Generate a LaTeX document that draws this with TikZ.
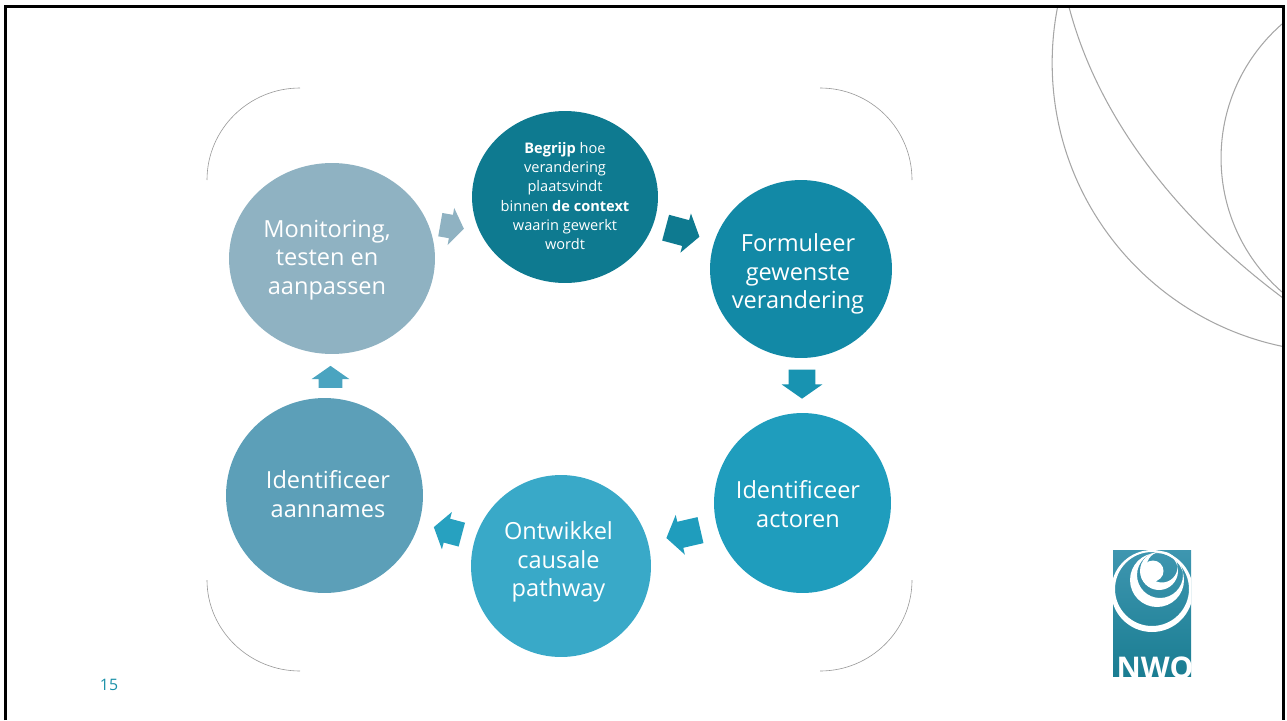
\documentclass[tikz,border=0pt]{standalone}
\usepackage{fontspec}
\setmainfont{Open Sans}
\usetikzlibrary{positioning}
\usetikzlibrary{shapes.geometric, shapes.arrows}
\definecolor{cbegrijp}{HTML}{0E7A90}
\definecolor{cformuleer}{HTML}{1289A6}
\definecolor{cactoren}{HTML}{1F9DBD}
\definecolor{contwikkel}{HTML}{39A9C8}
\definecolor{caannames}{HTML}{5C9FB8}
\definecolor{cmonitoring}{HTML}{8FB2C2}
\definecolor{clogotop}{HTML}{3E96B0}
\definecolor{clogobot}{HTML}{1A7D92}
\definecolor{cpage}{HTML}{1A90A8}
\begin{document}
\begin{tikzpicture}[
        x=0.02cm, y=-0.02cm,
        stap/.style={ellipse, inner sep=-2cm},
        tekst/.style={inner sep=0pt, align=center, text=white,
            font=\fontsize{13.4}{16.4}\selectfont},
        klein/.style={font=\fontsize{8.3}{11}\selectfont},
        pijl/.style={single arrow, inner xsep=0pt, inner ysep=#1, single arrow head extend=.14cm,
            single arrow tip angle=110, single arrow head indent=0pt},
        hoek/.style={draw=black!40, line width=.35pt},
        lijn/.style={draw=black!35, line width=.6pt}]

        \useasboundingbox (0,0) rectangle (1287,720);

        \node[stap, fill=cbegrijp, minimum width=3.72cm, minimum height=3.44cm] (B) at (565,197) {};
        \node[stap, fill=cformuleer, minimum width=3.64cm, minimum height=3.56cm] (F) at (801,269) {};
        \node[stap, fill=cactoren, minimum width=3.54cm, minimum height=3.6cm] (A) at (802.5,503) {};
        \node[stap, fill=contwikkel, minimum width=3.6cm, minimum height=3.64cm] (O) at (561,566) {};
        \node[stap, fill=caannames, minimum width=3.94cm, minimum height=3.9cm] (N) at (324.5,495.5) {};
        \node[stap, fill=cmonitoring, minimum width=4.12cm, minimum height=3.82cm] (M) at (332,258.5) {};

        \node[tekst, klein] (Bt) at (565,196)
            {\textbf{Begrijp} hoe\\verandering\\plaatsvindt\\binnen \textbf{de context}\\waarin gewerkt\\wordt};
        \node[tekst] (Ft) at (798,274) {Formuleer\\gewenste\\verandering};
        \node[tekst] (At) at (798,504) {Identificeer\\actoren};
        \node[tekst] (Ot) at (558.5,562) {Ontwikkel\\causale\\pathway};
        \node[tekst] (Nt) at (328,494) {Identificeer\\aannames};
        \node[tekst] (Mt) at (327,260) {Monitoring,\\testen en\\aanpassen};

        \node[pijl=.23cm, fill=cmonitoring, minimum height=.48cm, rotate=-10] (MB) at (448,226) {};
        \node[pijl=.26cm, fill=cbegrijp, minimum height=.7cm, rotate=-15] (BF) at (678,231) {};
        \node[pijl=.26cm, fill=cformuleer!50!cactoren, minimum height=.58cm, rotate=-90] (FA) at (802,379.5) {};
        \node[pijl=.26cm, fill=cactoren, minimum height=.7cm, rotate=193] (AO) at (688,533) {};
        \node[pijl=.24cm, fill=cactoren!70!contwikkel, minimum height=.58cm, rotate=165] (ON) at (452,532) {};
        \node[pijl=.23cm, fill=contwikkel!50!caannames, minimum height=.44cm, rotate=90] (NM) at (330.5,381) {};

        \draw[hoek] (207,180) .. controls (207,129) and (249,88) .. (300,88);
        \draw[hoek] (912,180) .. controls (912,129) and (871,88) .. (820,88);
        \draw[hoek] (207,580) .. controls (207,630) and (249,671) .. (300,671);
        \draw[hoek] (912,580) .. controls (912,630) and (871,671) .. (820,671);

        \begin{scope}
            \clip (6,6) rectangle (1283,720);
            \draw[lijn] (1341.6,63) circle[radius=5.79cm];
            \draw[lijn] (1398.7,158) circle[radius=3.554cm];
            \draw[lijn] (1069,7) .. controls (1100,125) and (1185,225) .. (1283,298);
        \end{scope}

        \draw[line width=.06cm] (5.5,720) -- (5.5,6.5) -- (1283,6.5) -- (1283,720);

        \begin{scope}
            \clip (1113,550) rectangle (1191,676);
            \shade[top color=clogotop, bottom color=clogobot] (1113,550) rectangle (1191,676);
            \fill[white, even odd rule] (1152,591) circle[radius=.82cm] (1152,589) circle[radius=.74cm];
            \fill[white, even odd rule] (1157,580) circle[radius=.54cm] (1160,575) circle[radius=.46cm];
            \fill[white, even odd rule] (1159,571) circle[radius=.38cm] (1162,567) circle[radius=.31cm];
            \fill[white] (1153,571) circle[radius=.21cm];
            \node[text=white, inner sep=0pt, font=\fontsize{17}{17}\bfseries\selectfont, anchor=base] (L) at (1155,678) {NWO};
        \end{scope}

        \node[text=cpage, inner sep=0pt, font=\fontsize{9}{11}\selectfont] (P) at (109,685) {15};

    \end{tikzpicture}
\end{document}
